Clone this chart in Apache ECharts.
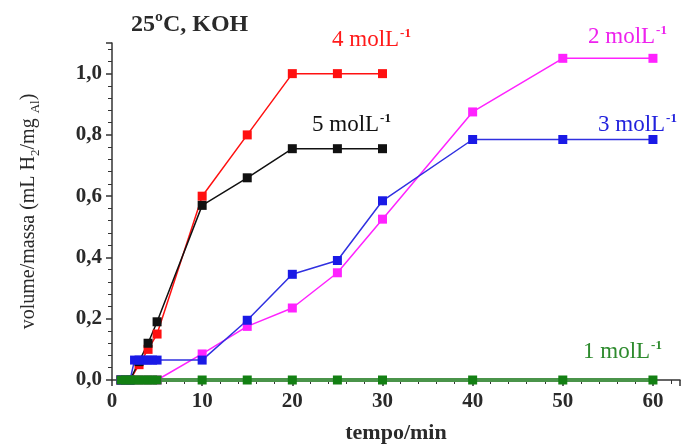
<!DOCTYPE html>
<html>
<head>
<meta charset="utf-8">
<script src="https://cdn.jsdelivr.net/npm/echarts@6/dist/echarts.min.js"></script>
<style>
  html, body { margin: 0; padding: 0; background: #fff; }
  #chart { width: 695px; height: 446px; }
</style>
</head>
<body>
<div id="chart"></div>
<script>
// tempo (min) and volume/massa values, one pair of arrays per concentration
const t1 = [1, 1.5, 2, 2.5, 3, 3.5, 4, 4.5, 5, 10, 15, 20, 25, 30, 40, 50, 60];
const v1 = [0, 0, 0, 0, 0, 0, 0, 0, 0, 0, 0, 0, 0, 0, 0, 0, 0];
const t2 = [1, 2, 3, 4, 5, 10, 15, 20, 25, 30, 40, 50, 60];
const v2 = [0, 0, 0, 0, 0, 0.085, 0.175, 0.235, 0.35, 0.525, 0.875, 1.05, 1.05];
const t3 = [1, 2, 2.5, 3, 3.5, 4, 4.5, 5, 10, 15, 20, 25, 30, 40, 50, 60];
const v3 = [0, 0, 0.065, 0.065, 0.065, 0.065, 0.065, 0.065, 0.065, 0.195, 0.345, 0.39, 0.585, 0.785, 0.785, 0.785];
const t4 = [1, 2, 3, 4, 5, 10, 15, 20, 25, 30];
const v4 = [0, 0, 0.05, 0.1, 0.15, 0.6, 0.8, 1.0, 1.0, 1.0];
const t5 = [1, 2, 3, 4, 5, 10, 15, 20, 25, 30];
const v5 = [0, 0, 0.06, 0.12, 0.19, 0.57, 0.66, 0.755, 0.755, 0.755];

const xTicks = [0, 10, 20, 30, 40, 50, 60];
const yTicks = [0, 0.2, 0.4, 0.6, 0.8, 1.0];

const FONT = "'Liberation Serif', 'DejaVu Serif', serif";

const pairs = (t, v) => t.map((x, i) => [x, v[i]]);

function makeSeries(name, t, v, color, lineColor, lineWidth) {
  return {
    name,
    type: "line",
    data: pairs(t, v),
    symbol: "rect",
    symbolSize: 9,
    showSymbol: true,
    lineStyle: { color: lineColor, width: lineWidth },
    itemStyle: { color },
    animation: false,
  };
}

const chart = echarts.init(document.getElementById("chart"));

// concentration labels: "N molL" with a small "-1" up high
const concLabel = (left, top, n, color) => ({
  type: "text",
  left,
  top,
  style: {
    text: `{a|${n} molL}{b|-1}`,
    rich: {
      a: { fill: color, fontFamily: FONT, fontSize: 23, lineHeight: 26 },
      b: { fill: color, fontFamily: FONT, fontSize: 13, fontWeight: "bold", lineHeight: 26, verticalAlign: "top", padding: [0, 0, 12, 1] },
    },
  },
});

const option = {
  backgroundColor: "#fff",
  grid: { left: 112, right: 15, top: 43, bottom: 66, outerBoundsMode: "none" },
  xAxis: {
    type: "value",
    min: 0,
    max: 63,
    interval: 10,
    name: "tempo/min",
    nameLocation: "middle",
    nameGap: 42,
    nameTextStyle: { fontFamily: FONT, fontSize: 22, fontWeight: "bold", color: "#2a2a2a" },
    axisLine: { lineStyle: { color: "#333", width: 1.5 } },
    axisTick: { lineStyle: { color: "#333", width: 1.5 }, length: 6 },
    minorTick: { show: true, splitNumber: 5, length: 4, lineStyle: { color: "#333" } },
    splitLine: { show: false },
    axisLabel: {
      fontFamily: FONT,
      fontSize: 21,
      fontWeight: "bold",
      color: "#2a2a2a",
      margin: 11,
      showMaxLabel: false,
      formatter: (v) => (xTicks.includes(v) ? String(v) : ""),
    },
  },
  yAxis: {
    type: "value",
    min: 0,
    max: 1.1,
    interval: 0.2,
    name: "{n|volume/massa (mL H}{s|2}{n|/mg }{s|Al}{n|)}",
    nameLocation: "middle",
    nameRotate: 90,
    nameGap: 70,
    nameTextStyle: {
      rich: {
        n: { fontFamily: FONT, fontSize: 20, color: "#2a2a2a", lineHeight: 26 },
        s: { fontFamily: FONT, fontSize: 13, color: "#2a2a2a", lineHeight: 26, verticalAlign: "bottom", padding: [10, 0, 0, 0] },
      },
    },
    axisLine: { lineStyle: { color: "#333", width: 1.5 } },
    axisTick: { lineStyle: { color: "#333", width: 1.5 }, length: 6 },
    minorTick: { show: true, splitNumber: 5, length: 4, lineStyle: { color: "#333" } },
    splitLine: { show: false },
    axisLabel: {
      fontFamily: FONT,
      fontSize: 21,
      fontWeight: "bold",
      color: "#2a2a2a",
      margin: 10,
      showMaxLabel: false,
      formatter: (v) => {
        const hit = yTicks.find((y) => Math.abs(y - v) < 1e-6);
        return hit === undefined ? "" : hit.toFixed(1).replace(".", ",");
      },
    },
  },
  graphic: [
    {
      type: "text",
      left: 131,
      top: 13,
      style: { text: "25ºC, KOH", fill: "#2a2a2a", font: `bold 24px ${FONT}` },
    },
    concLabel(332, 27, "4", "#ff1a1a"),
    concLabel(312, 112, "5", "#111"),
    concLabel(588, 24, "2", "#ee22ee"),
    concLabel(598, 112, "3", "#2222dd"),
    concLabel(583, 339, "1", "#2e8b2e"),
  ],
  series: [
    makeSeries("4 molL-1", t4, v4, "#ff1010", "#ff1010", 1.5),
    makeSeries("5 molL-1", t5, v5, "#111111", "#111111", 1.5),
    makeSeries("2 molL-1", t2, v2, "#ff22ff", "#ff22ff", 1.5),
    makeSeries("3 molL-1", t3, v3, "#1a1ae6", "#3030e0", 1.5),
    makeSeries("1 molL-1", t1, v1, "#138013", "#4a944a", 4),
  ],
};

chart.setOption(option);
</script>
</body>
</html>
